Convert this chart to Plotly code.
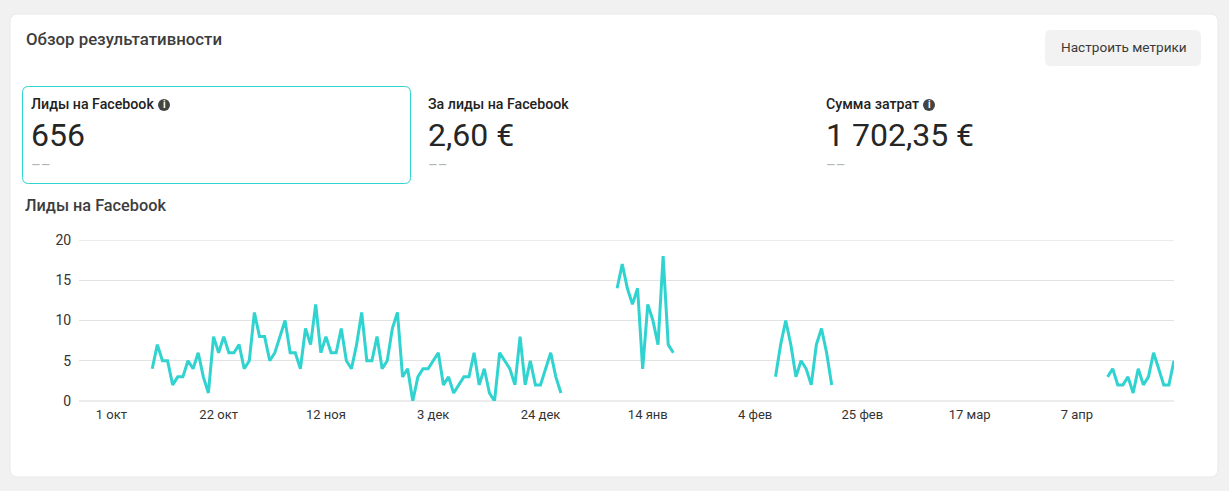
import pandas as pd
import plotly.graph_objects as go

W = 1229
H = 491

kpi_titles = ["Лиды на Facebook", "За лиды на Facebook", "Сумма затрат"]
kpi_values = ["656", "2,60 €", "1 702,35 €"]

tick_dates = ["2023-10-01", "2023-10-22", "2023-11-12", "2023-12-03", "2023-12-24",
              "2024-01-14", "2024-02-04", "2024-02-25", "2024-03-17", "2024-04-07"]
tick_labels = ["1 окт", "22 окт", "12 ноя", "3 дек", "24 дек",
               "14 янв", "4 фев", "25 фев", "17 мар", "7 апр"]

# куски ряда: дата начала и дневные значения, между ними данных нет
part1_start = "2023-10-09"
part1 = [4, 7, 5, 5, 2, 3, 3, 5, 4, 6, 3, 1, 8, 6, 8, 6, 6, 7, 4, 5, 11, 8, 8, 5, 6, 8, 10, 6, 6, 4,
         9, 7, 12, 6, 8, 6, 6, 9, 5, 4, 7, 11, 5, 5, 8, 4, 5, 9, 11, 3, 4, 0, 3, 4, 4, 5, 6, 2, 3, 1,
         2, 3, 3, 6, 2, 4, 1, 0, 6, 5, 4, 2, 8, 2, 5, 2, 2, 4, 6, 3, 1]
part2_start = "2024-01-08"
part2 = [14, 17, 14, 12, 14, 4, 12, 10, 7, 18, 7, 6]
part3_start = "2024-02-08"
part3 = [3, 7, 10, 7, 3, 5, 4, 2, 7, 9, 6, 2]
part4_start = "2024-04-13"
part4 = [3, 4, 2, 2, 3, 1, 4, 2, 3, 6, 4, 2, 2, 5]


def px_x(x):
    return x / W


def px_y(y):
    return 1 - y / H


def rounded(x0, y0, x1, y1, r):
    return (f"M {px_x(x0 + r)} {px_y(y0)} L {px_x(x1 - r)} {px_y(y0)} "
            f"Q {px_x(x1)} {px_y(y0)} {px_x(x1)} {px_y(y0 + r)} L {px_x(x1)} {px_y(y1 - r)} "
            f"Q {px_x(x1)} {px_y(y1)} {px_x(x1 - r)} {px_y(y1)} L {px_x(x0 + r)} {px_y(y1)} "
            f"Q {px_x(x0)} {px_y(y1)} {px_x(x0)} {px_y(y1 - r)} L {px_x(x0)} {px_y(y0 + r)} "
            f"Q {px_x(x0)} {px_y(y0)} {px_x(x0 + r)} {px_y(y0)} Z")


def label(fig, x, y, text, size, color, weight=400):
    fig.add_annotation(x=px_x(x), y=px_y(y), xref="paper", yref="paper", text=text, showarrow=False,
                       xanchor="left", yanchor="middle", align="left", borderpad=0, borderwidth=0,
                       font=dict(family="Roboto", size=size, color=color, weight=weight))


def info_icon(fig, cx, cy):
    fig.add_shape(type="circle", xref="paper", yref="paper", x0=px_x(cx - 6), x1=px_x(cx + 6),
                  y0=px_y(cy + 6), y1=px_y(cy - 6), fillcolor="#444444", line_width=0, layer="below")
    fig.add_annotation(x=px_x(cx), y=px_y(cy), xref="paper", yref="paper", text="i", showarrow=False,
                       xanchor="center", yanchor="middle", borderpad=0,
                       font=dict(family="Roboto", size=10, color="#ffffff", weight=700))


dates = []
values = []
for start, part in [(part1_start, part1), (part2_start, part2), (part3_start, part3), (part4_start, part4)]:
    dates += list(pd.date_range(start, periods=len(part)))
    values += part
    dates.append(dates[-1] + pd.Timedelta(days=1))
    values.append(None)

fig = go.Figure(go.Scatter(x=dates, y=values, mode="lines", connectgaps=False, cliponaxis=False,
                           line=dict(color="#30d3cf", width=3), hoverinfo="x+y"))

# карточка, кнопка, рамка выбранной метрики
fig.add_shape(type="path", xref="paper", yref="paper", path=rounded(10, 14, 1218, 477, 8),
              fillcolor="#ffffff", line=dict(color="#e9e9e9", width=1), layer="below")
fig.add_shape(type="path", xref="paper", yref="paper", path=rounded(1045, 30, 1201, 66, 6),
              fillcolor="#f2f2f2", line_width=0, layer="below")
fig.add_shape(type="path", xref="paper", yref="paper", path=rounded(22.5, 86.5, 410.5, 183.5, 6),
              fillcolor="rgba(0,0,0,0)", line=dict(color="#30d3cf", width=1), layer="below")
# верхняя линия сетки в оригинале толще остальных
fig.add_hline(y=20, line=dict(color="#ececec", width=2), layer="below")

label(fig, 26, 39, "Обзор результативности", 16.8, "#3d3d3d", 500)
label(fig, 1061, 47, "Настроить метрики", 13.6, "#3a3a3a")
label(fig, 25, 205, "Лиды на Facebook", 16.3, "#3d3d3d", 500)

kpi_x = [31, 428, 826]
for x, title, value in zip(kpi_x, kpi_titles, kpi_values):
    label(fig, x, 104, title, 14.2, "#222222", 500)
    label(fig, x, 135, value, 32, "#262626")
    label(fig, x, 165, "––", 15, "#b5b5b5")
info_icon(fig, 164, 105)
info_icon(fig, 929, 105)

fig.update_layout(
    width=W, height=H, margin=dict(l=0, r=0, t=0, b=0, autoexpand=False),
    paper_bgcolor="#f1f1f1", plot_bgcolor="rgba(0,0,0,0)",
    showlegend=False, font=dict(family="Roboto", size=13, color="#333333"),
    xaxis=dict(domain=[79 / W, 1174 / W], range=["2023-09-24 16:00", "2024-04-26"], type="date",
               tickmode="array", tickvals=tick_dates, ticktext=tick_labels, showgrid=False,
               zeroline=False, showline=False, ticks="outside", ticklen=1, tickcolor="rgba(0,0,0,0)",
               tickfont=dict(size=13, color="#333333")),
    yaxis=dict(domain=[1 - 401 / H, 1 - 240 / H], range=[0, 20], tickvals=[0, 5, 10, 15, 20],
               gridcolor="#e2e2e2", gridwidth=1, zeroline=True, zerolinecolor="#ececec", zerolinewidth=2,
               showline=False, ticks="outside", ticklen=4, tickcolor="rgba(0,0,0,0)",
               tickfont=dict(size=14, color="#333333")),
)

fig.write_html("out.html", config=dict(displayModeBar=False),
               post_script="document.body.style.margin='0';")
